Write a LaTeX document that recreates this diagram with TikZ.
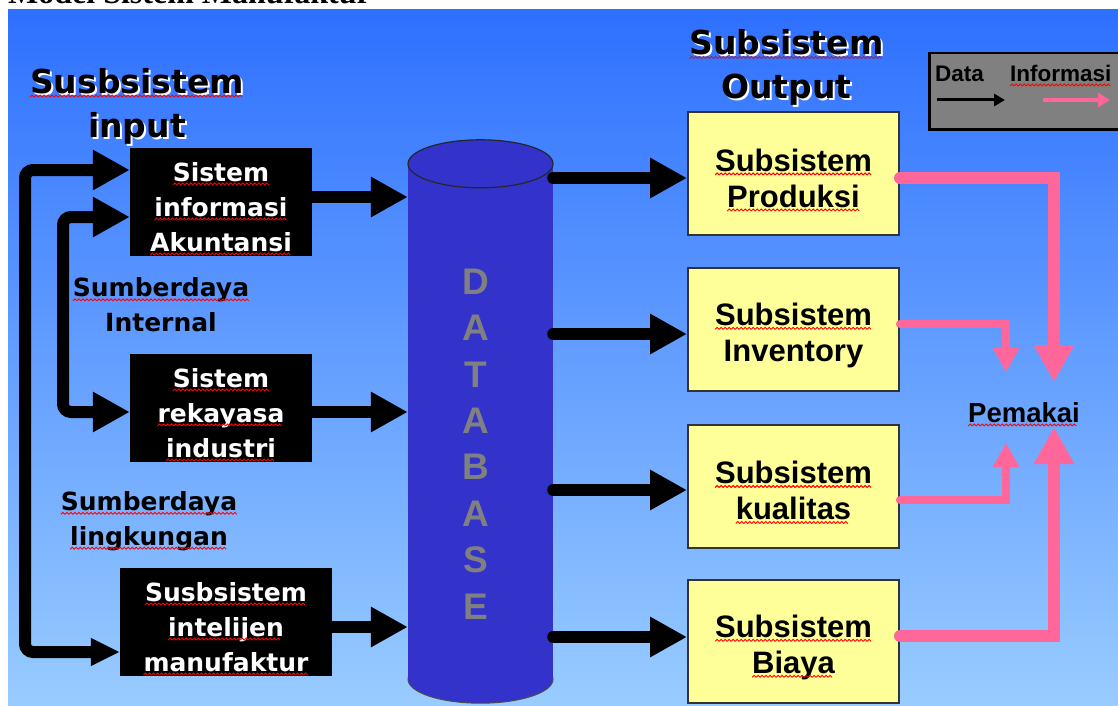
\documentclass[tikz,border=0pt]{standalone}
\usepackage{fontspec}
\usetikzlibrary{arrows.meta}
\newfontfamily\dejavu{DejaVu Sans}
\newfontfamily\libsans{Liberation Sans}
\newfontfamily\libserif{Liberation Serif}
\definecolor{bgtop}{RGB}{46,112,255}
\definecolor{bgbot}{RGB}{153,204,255}
\definecolor{dbblue}{RGB}{51,51,204}
\definecolor{ylw}{RGB}{255,255,153}
\definecolor{pinkinfo}{RGB}{255,102,153}
\newsavebox\wavebox
\newsavebox\wordbox
\newcommand\spl[1]{\sbox\wordbox{#1}\usebox\wordbox\llap{\lower4pt\hbox to \wd\wordbox{\leaders\copy\wavebox\hfill}}}
\newcommand\blkgap{\rule{0pt}{32pt}}
\newcommand\ylwgap{\rule{0pt}{35pt}}

\begin{document}
\sbox\wavebox{\begin{pgfpicture}
    \pgfpathrectangle{\pgfpointorigin}{\pgfpoint{4pt}{2pt}}
    \pgfusepath{use as bounding box}
    \pgfsetlinewidth{0.9pt}
    \pgfsetstrokecolor{red}
    \pgfpathmoveto{\pgfpointorigin}
    \pgfpathlineto{\pgfpoint{2pt}{2pt}}
    \pgfpathlineto{\pgfpoint{4pt}{0pt}}
    \pgfusepath{stroke}
  \end{pgfpicture}}%
\begin{tikzpicture}[x=1pt,y=-1pt,
    blkbox/.style={fill=black, text=white, minimum height=108pt, inner sep=0pt, align=center,
      font=\dejavu\bfseries\fontsize{25}{35}\selectfont},
    ylwbox/.style={draw=black!80, line width=2pt, fill=ylw, minimum width=211pt, minimum height=123pt,
      inner sep=0pt, align=center, font=\libsans\bfseries\fontsize{31}{36}\selectfont},
    heading/.style={inner sep=0pt, align=center, font=\dejavu\bfseries\fontsize{33}{44}\selectfont},
    sumber/.style={inner sep=0pt, align=center, font=\dejavu\bfseries\fontsize{25}{35}\selectfont},
    dataarrow/.style={line width=12pt, -{Triangle[length=37pt,width=38pt]}},
    loopline/.style={line width=12pt, rounded corners=8pt},
    infobig/.style={pinkinfo, line width=12pt, line cap=round, -{Triangle[length=37pt,width=38pt]}},
    infosmall/.style={pinkinfo, line width=8pt, line cap=round, -{Triangle[length=24pt,width=25pt]}}]

    \useasboundingbox (0,0) rectangle (1118,706);
    \fill[white] (0,0) rectangle (1118,706);
    \shade[top color=bgtop, bottom color=bgbot] (8,10) rectangle (1118,706);
    \node[anchor=base west, inner sep=0pt, font=\libserif\bfseries\fontsize{32}{38}\selectfont] (title) at (8,3.5) {Model Sistem Manufaktur};

    \node[heading, white] (hinsh) at (139,108) {Susbsistem\\input};
    \node[heading] (hin) at (137,106) {\spl{Susbsistem}\\input};
    \node[heading, white] (houtsh) at (788.5,69.5) {Subsistem\\Output};
    \node[heading] (hout) at (786.5,67.5) {\spl{Subsistem}\\Output};

    \node[blkbox, minimum width=182pt] (b1) at (221,202) {\blkgap\spl{Sistem}\\\spl{informasi}\\\spl{Akuntansi}};
    \node[blkbox, minimum width=182pt] (b2) at (221,408) {\blkgap\spl{Sistem}\\\spl{rekayasa}\\\spl{industri}};
    \node[blkbox, minimum width=212pt] (b3) at (226,622) {\blkgap\spl{Susbsistem}\\\spl{intelijen}\\\spl{manufaktur}};
    \node[sumber] (sint) at (161,305) {\spl{Sumberdaya}\\Internal};
    \node[sumber] (sling) at (149,521) {\spl{Sumberdaya}\\\spl{lingkungan}};

    \node[minimum width=145pt, minimum height=515pt, inner sep=0pt] (db) at (480.5,421.5) {};
    \filldraw[fill=dbblue, draw=black!70, line width=1pt] (db.south) ellipse[x radius=72.5pt, y radius=24pt];
    \fill[dbblue] (db.south west) rectangle (db.north east);
    \filldraw[fill=dbblue, draw=black!85, line width=1.2pt] (db.north) ellipse[x radius=72.5pt, y radius=24pt];
    \node[align=center, inner sep=0pt, text=gray, font=\libsans\bfseries\fontsize{37}{46.4}\selectfont] (dbtext) at (475.5,444) {D\\A\\T\\A\\B\\A\\S\\E};

    \node[ylwbox] (y1) at (793.5,173.5) {\ylwgap\spl{Subsistem}\\\spl{Produksi}};
    \node[ylwbox] (y2) at (793.5,329) {\ylwgap\spl{Subsistem}\\Inventory};
    \node[ylwbox] (y3) at (793.5,486) {\ylwgap\spl{Subsistem}\\\spl{kualitas}};
    \node[ylwbox] (y4) at (793.5,641) {\ylwgap\spl{Subsistem}\\\spl{Biaya}};
    \node[anchor=base, inner sep=0pt, font=\libsans\bfseries\fontsize{27.5}{30}\selectfont] (pem) at (1024,422) {\spl{Pemakai}};

    \node[draw=black, line width=2.5pt, fill=gray, anchor=north west, minimum width=200pt, minimum height=76pt] (leg) at (928,52) {};
    \node[anchor=base west, inner sep=0pt, font=\libsans\bfseries\fontsize{22.5}{25}\selectfont] (ldata) at (935,82) {Data};
    \node[anchor=base west, inner sep=0pt, font=\libsans\bfseries\fontsize{22.5}{25}\selectfont] (linfo) at (1010,82) {\spl{Informasi}};
    \coordinate (ld0) at (937,100);
    \coordinate (ld1) at (1005,100);
    \coordinate (li0) at (1043,100);
    \coordinate (li1) at (1110,100);
    \draw[line width=3pt, -{Triangle[length=11pt,width=12pt]}] (ld0) -- (ld1);
    \draw[pinkinfo, line width=4pt, -{Triangle[length=12pt,width=14pt]}] (li0) -- (li1);

    \coordinate (outer) at (25,400);
    \coordinate (inner) at (63,300);
    \draw[loopline, {Triangle[length=37pt,width=38pt]}-{Triangle[length=29pt,width=26pt]}] ([yshift=32pt]b1.west) -| (outer) |- ([yshift=-30pt]b3.west);
    \draw[loopline, {Triangle[length=37pt,width=38pt]}-{Triangle[length=37pt,width=38pt]}] ([yshift=-15pt]b1.west) -| (inner) |- ([yshift=-4pt]b2.west);

    \coordinate (s1) at ([yshift=5pt]b1.east);
    \coordinate (s2) at ([yshift=-4pt]b2.east);
    \coordinate (s3) at ([yshift=-5pt]b3.east);
    \draw[dataarrow] (s1) -- (s1 -| db.west);
    \draw[dataarrow] (s2) -- (s2 -| db.west);
    \draw[dataarrow] (s3) -- (s3 -| db.west);

    \coordinate (t1) at ([yshift=-4.5pt]y1.west);
    \coordinate (t2) at ([yshift=-5pt]y2.west);
    \coordinate (t3) at ([yshift=-4pt]y3.west);
    \coordinate (t4) at ([yshift=4pt]y4.west);
    \draw[dataarrow, line cap=round] (t1 -| db.east) -- (t1);
    \draw[dataarrow, line cap=round] (t2 -| db.east) -- (t2);
    \draw[dataarrow, line cap=round] (t3 -| db.east) -- (t3);
    \draw[dataarrow, line cap=round] (t4 -| db.east) -- (t4);

    \coordinate (pa) at ([xshift=30pt,yshift=40pt]pem.base);
    \coordinate (pb) at ([xshift=-18pt,yshift=50pt]pem.base);
    \coordinate (pc) at ([xshift=-18pt,yshift=-21pt]pem.base);
    \coordinate (pd) at ([xshift=30pt,yshift=-5pt]pem.base);
    \draw[infobig] ([yshift=-4.5pt]y1.east) -| (pa);
    \draw[infosmall] ([yshift=5pt]y2.east) -| (pb);
    \draw[infosmall] ([yshift=-14pt]y3.east) -| (pc);
    \draw[infobig] ([yshift=5pt]y4.east) -| (pd);
\end{tikzpicture}
\end{document}
